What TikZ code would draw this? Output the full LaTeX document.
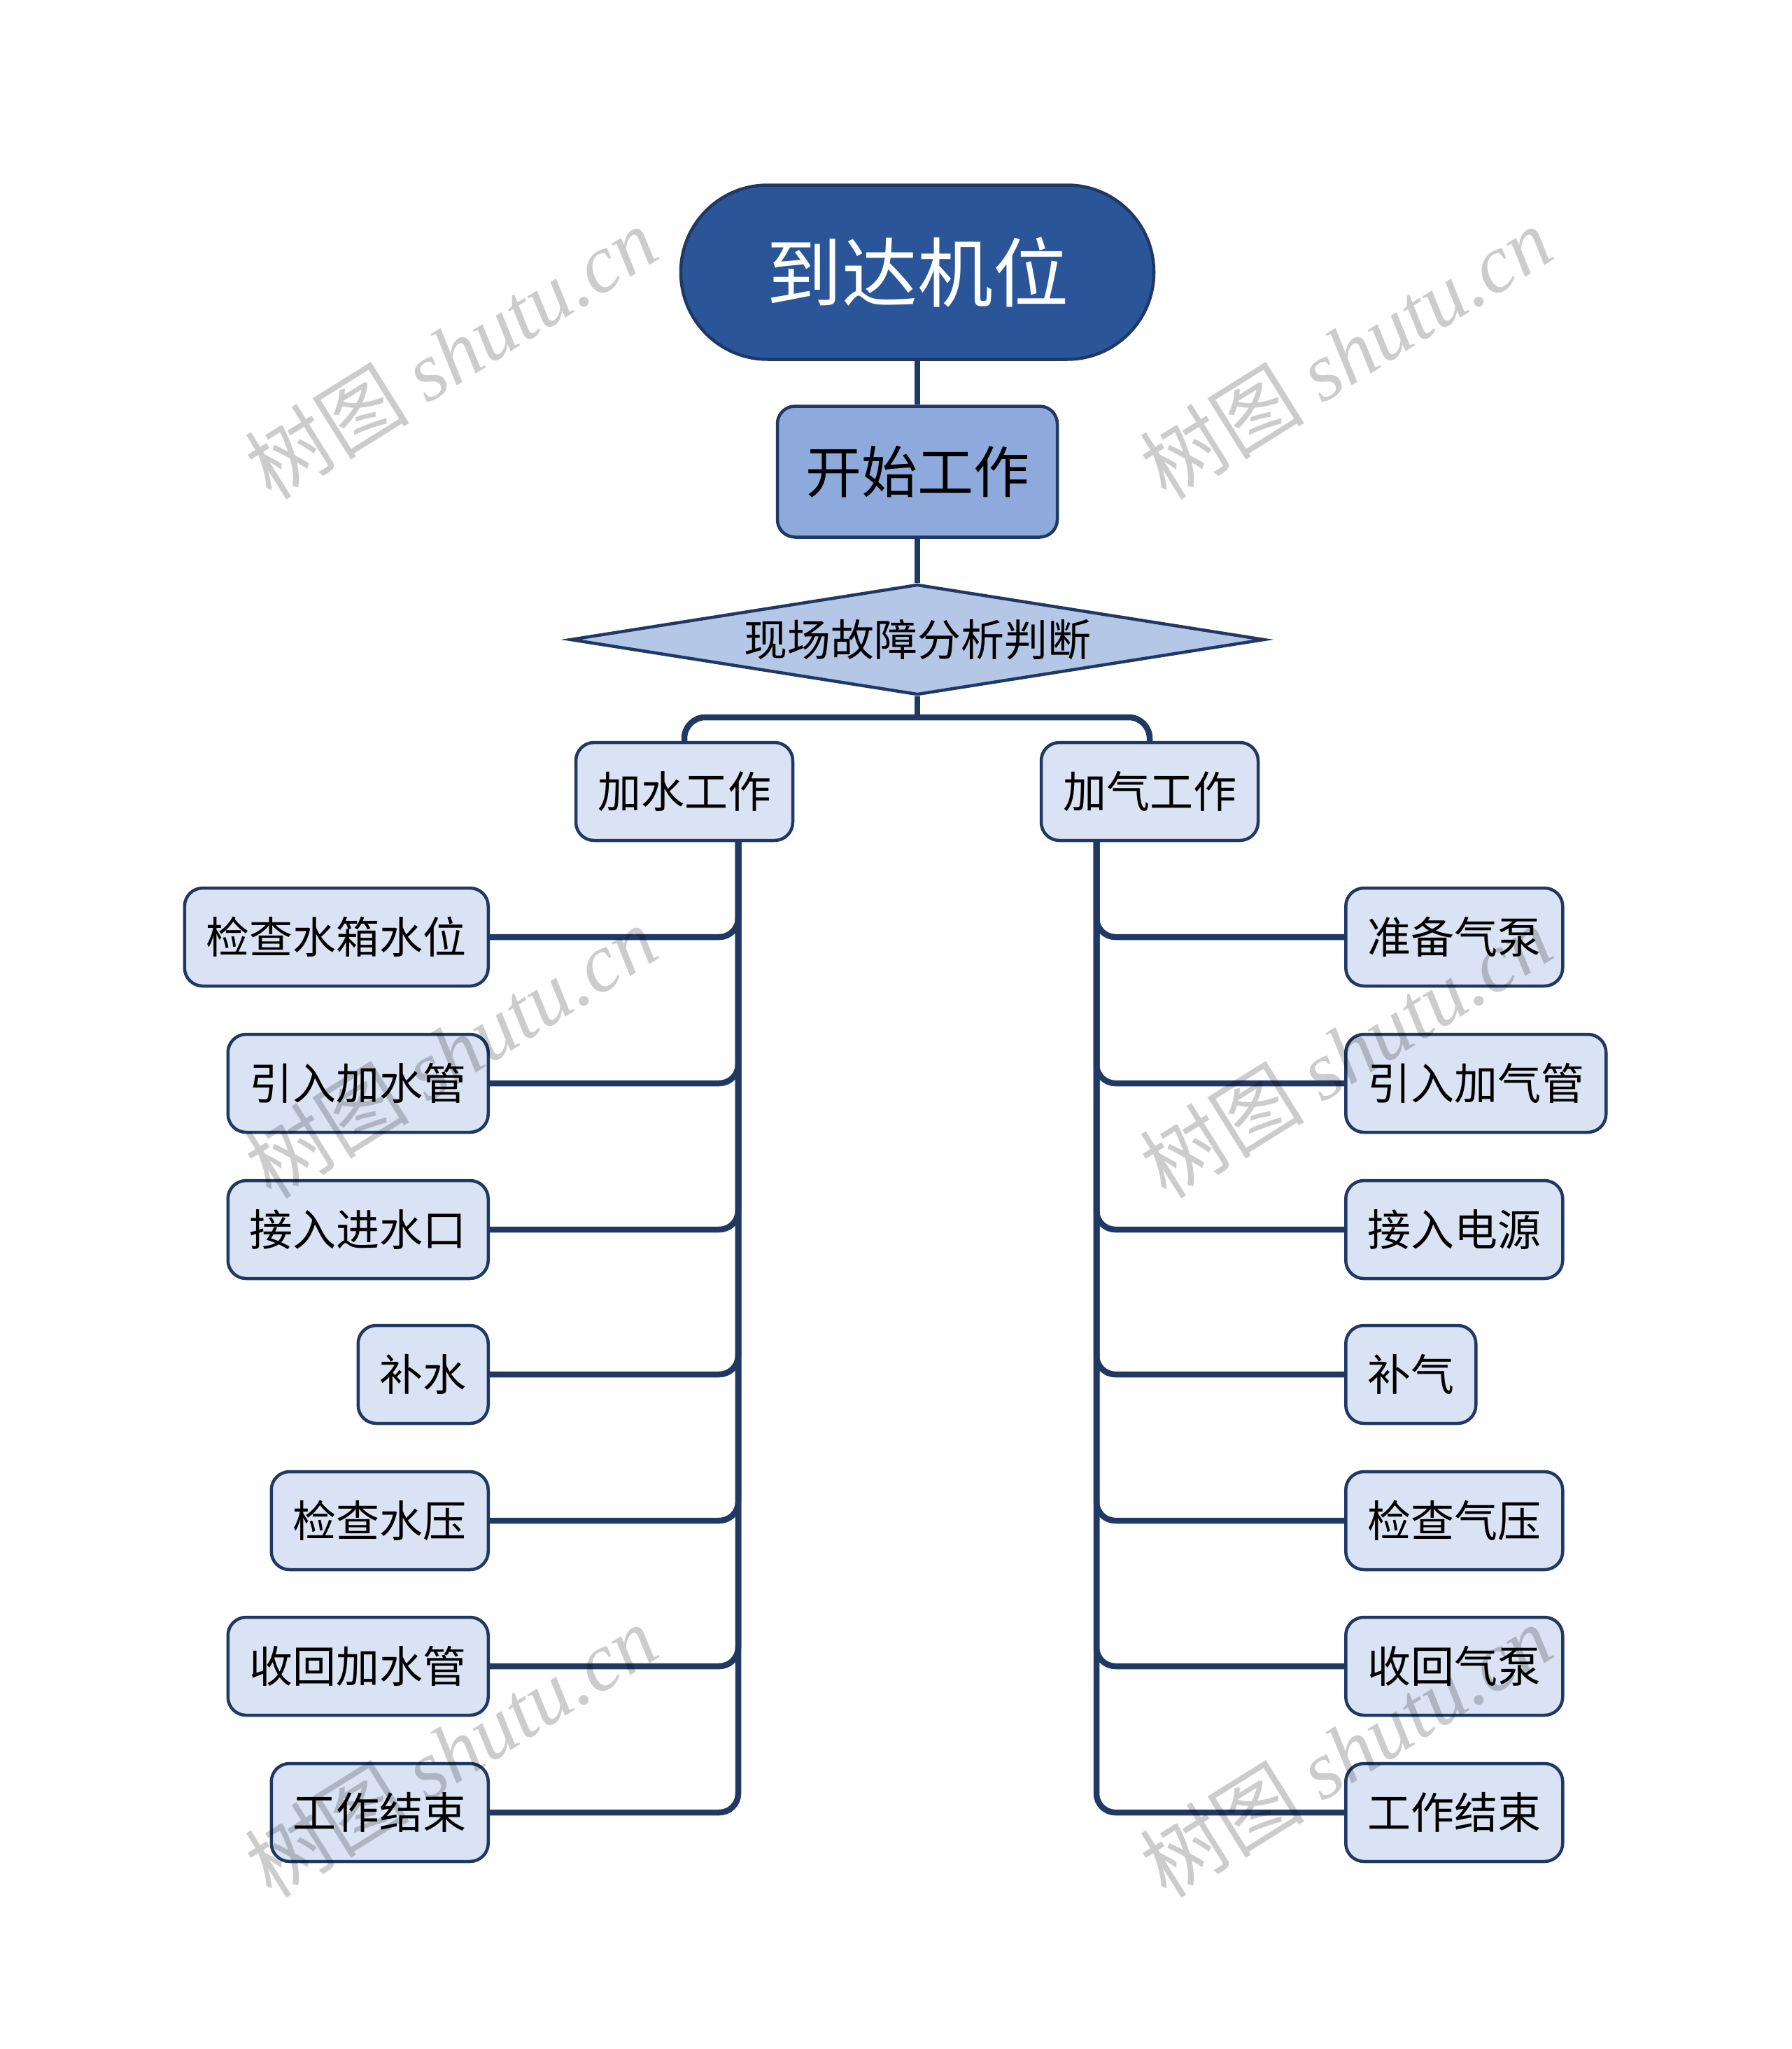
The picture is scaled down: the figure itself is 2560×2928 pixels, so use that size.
\documentclass[tikz,border=0pt]{standalone}
\usepackage{fontspec}
\setmainfont{Noto Sans CJK SC}
\newfontfamily\wmlatin{Liberation Serif}
\usetikzlibrary{shapes.geometric}
\definecolor{navy}{HTML}{1F3864}
\definecolor{topfill}{HTML}{2A5699}
\definecolor{startfill}{HTML}{8EAADC}
\definecolor{diafill}{HTML}{B4C7E7}
\definecolor{leaffill}{HTML}{DAE3F3}
\pgfdeclarelayer{bg}
\pgfsetlayers{bg,main}
\begin{document}
\begin{tikzpicture}[x=1pt,y=-1pt,
  conn/.style={draw=navy,line width=8.5pt},
  base/.style={draw=navy,line width=4.5pt,inner sep=0pt,align=center},
  topnode/.style={base,fill=topfill,text=white,minimum width=676pt,minimum height=249pt,rounded corners=124pt,font=\fontsize{108}{120}\selectfont},
  startnode/.style={base,fill=startfill,minimum width=400pt,minimum height=187pt,rounded corners=25pt,font=\fontsize{80}{90}\selectfont},
  decision/.style={base,shape=diamond,aspect=6.3,fill=diafill,minimum width=992pt,minimum height=158pt,font=\fontsize{62}{70}\selectfont},
  branch/.style={base,fill=leaffill,minimum height=140pt,inner xsep=31pt,rounded corners=26pt,font=\fontsize{62}{70}\selectfont},
  leaf/.style={branch},
  wm/.style={rotate=32,text=black,opacity=0.2,inner sep=0pt,font=\fontsize{118}{128}\selectfont}
]
\useasboundingbox (0,0) rectangle (2560,2928);

\node[topnode] (arrive) at (1311,389) {到达机位};
\node[startnode] (begin) at (1311,674) {开始工作};
\node[decision] (judge) at (1311,914) {现场故障分析判断};
\node[branch] (water) at (978,1131) {加水工作};
\node[branch] (gas) at (1643,1131) {加气工作};
\coordinate (bus) at (1311,1025);
\coordinate (wtrunk) at (1055,1201);
\coordinate (gtrunk) at (1567,1201);

\node[leaf,anchor=east] (w1) at (700,1339) {检查水箱水位};
\node[leaf,anchor=east] (w2) at (700,1548) {引入加水管};
\node[leaf,anchor=east] (w3) at (700,1757) {接入进水口};
\node[leaf,anchor=east] (w4) at (700,1964) {补水};
\node[leaf,anchor=east] (w5) at (700,2173) {检查水压};
\node[leaf,anchor=east] (w6) at (700,2381) {收回加水管};
\node[leaf,anchor=east] (w7) at (700,2590) {工作结束};

\node[leaf,anchor=west] (g1) at (1921,1339) {准备气泵};
\node[leaf,anchor=west] (g2) at (1921,1548) {引入加气管};
\node[leaf,anchor=west] (g3) at (1921,1757) {接入电源};
\node[leaf,anchor=west] (g4) at (1921,1964) {补气};
\node[leaf,anchor=west] (g5) at (1921,2173) {检查气压};
\node[leaf,anchor=west] (g6) at (1921,2381) {收回气泵};
\node[leaf,anchor=west] (g7) at (1921,2590) {工作结束};

\begin{pgfonlayer}{bg}
  \draw[conn] (arrive) -- (begin);
  \draw[conn] (begin) -- (judge);
  \draw[conn] (judge.south) -- (bus);
  \draw[conn,rounded corners=30pt] (water.north) |- (bus) -| (gas.north);
  \foreach \n in {w1,w2,w3,w4,w5,w6,w7}
    \draw[conn,rounded corners=27pt] (wtrunk) |- (\n.east);
  \foreach \n in {g1,g2,g3,g4,g5,g6,g7}
    \draw[conn,rounded corners=27pt] (gtrunk) |- (\n.west);
\end{pgfonlayer}

\foreach \x/\y [count=\i] in {644/504,1923/504,644/1503,1923/1503,644/2502,1923/2502}
  \node[wm] (wm\i) at (\x,\y) {树图 {\wmlatin\itshape shutu.cn}};
\end{tikzpicture}
\end{document}
